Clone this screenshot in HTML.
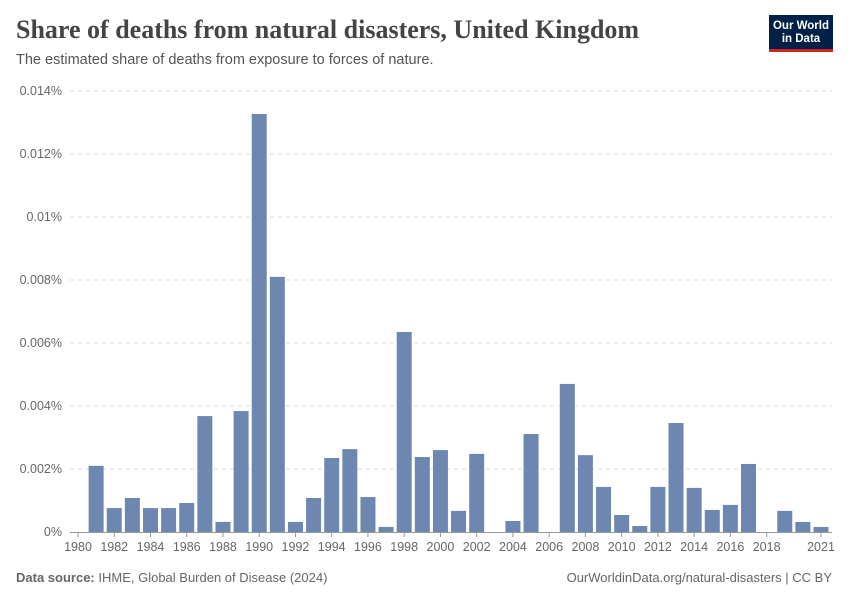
<!DOCTYPE html>
<html><head><meta charset="utf-8"><style>
body{margin:0;background:#fff;font-family:"Liberation Sans",sans-serif}
#wrap{position:relative;width:850px;height:600px;overflow:hidden}
.t{position:absolute;white-space:nowrap}
</style></head><body>
<div id="wrap">
<div class="t" style="left:16px;top:15px;font-family:'Liberation Serif',serif;font-size:26px;font-weight:bold;color:#444">Share of deaths from natural disasters, United Kingdom</div>
<div class="t" style="left:16px;top:52px;font-size:14.5px;color:#555">The estimated share of deaths from exposure to forces of nature.</div>
<div style="position:absolute;left:769px;top:15px;width:64px;height:37px;background:#002147;border-bottom:3px solid #ce261e;box-sizing:border-box;color:#fff;font-size:11.5px;font-weight:bold;line-height:13px;text-align:center;padding-top:5px">Our World<br>in Data</div>
<svg id="chart" width="850" height="600" style="position:absolute;left:0;top:0"></svg>
<div class="t" style="left:16px;top:570px;font-size:13px;color:#666"><b>Data source:</b> IHME, Global Burden of Disease (2024)</div>
<div class="t" style="right:18px;top:570px;font-size:13px;color:#666">OurWorldinData.org/natural-disasters | CC BY</div>
</div>
<script>
const years=[1981,1982,1983,1984,1985,1986,1987,1988,1989,1990,1991,1992,1993,1994,1995,1996,1997,1998,1999,2000,2001,2002,2004,2005,2007,2008,2009,2010,2011,2012,2013,2014,2015,2016,2017,2019,2020,2021];
const values=[0.0021,0.00076,0.00108,0.00076,0.00076,0.00092,0.00368,0.00032,0.00384,0.01327,0.0081,0.00032,0.00108,0.00235,0.00263,0.00111,0.00016,0.00635,0.00238,0.0026,0.00067,0.00248,0.00035,0.00311,0.0047,0.00244,0.00143,0.00054,0.00019,0.00143,0.00346,0.0014,0.0007,0.00086,0.00216,0.00067,0.00032,0.00016];
const yTicks=[0,0.002,0.004,0.006,0.008,0.01,0.012,0.014];
const yLabels=["0%","0.002%","0.004%","0.006%","0.008%","0.01%","0.012%","0.014%"];
const xTicks=[1980,1982,1984,1986,1988,1990,1992,1994,1996,1998,2000,2002,2004,2006,2008,2010,2012,2014,2016,2018,2021];
const svg=document.getElementById('chart');const NS='http://www.w3.org/2000/svg';
const x=v=>78+(v-1980)*(821-78)/41;
const y=v=>532-v*(532-91)/0.014;
function mk(t,a){const e=document.createElementNS(NS,t);for(const k in a)e.setAttribute(k,a[k]);svg.appendChild(e);return e;}
yTicks.forEach((v,i)=>{
 if(i>0){const l=mk('line',{x1:70,x2:832,y1:y(v),y2:y(v),stroke:'#dcdcdc','stroke-dasharray':'4,4'});
 
 }
 const t=mk('text',{x:62,y:y(v)+4,'text-anchor':'end','font-size':12.5,fill:'#666','font-family':'Liberation Sans,sans-serif'});t.textContent=yLabels[i];
 
 
});
years.forEach((yr,i)=>{
 const r=mk('rect',{x:x(yr)-7.5,y:y(values[i]),width:15,height:532-y(values[i]),fill:'#6d87b0'});
 
 
});
const ax=mk('line',{x1:70,x2:832,y1:532.5,y2:532.5,stroke:'#999'});


xTicks.forEach(v=>{
 const tk=mk('line',{x1:x(v),x2:x(v),y1:532,y2:537,stroke:'#999'});
 
 
 const t=mk('text',{x:x(v),y:551,'text-anchor':'middle','font-size':12.5,fill:'#666','font-family':'Liberation Sans,sans-serif'});t.textContent=v;
 
 
});
</script>
</body></html>
